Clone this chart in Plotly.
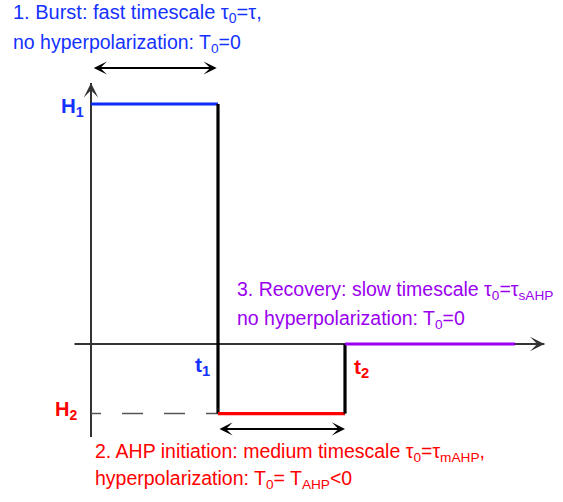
import plotly.graph_objects as go

# ---- data (abstract units) ----
t_points = [0, 1, 2, 3.34]          # t0, t1, t2, end of recovery
levels = [1.0, -0.29, 0.0]          # H1, H2, rest
x_axis_span = [-0.13, 3.57]
y_axis_span = [-0.3875, 1.0875]
burst_arrow_y = 1.15
ahp_arrow_y = -0.354

W, H = 563, 502
X0, Y0 = 91, 344         # pixel position of the origin inside the figure
SX, SY = 127, 240        # pixels per unit
FONT = "Liberation Sans, Arial, sans-serif"
BLUE = "#1432ff"
BLUE_LINE = "#0a2cf5"
RED = "#ff0000"
PURPLE = "#9a00f0"
AXC = "#333333"

fig = go.Figure()

t0, t1, t2, tend = t_points
H1, H2, rest = levels

# axes lines
fig.add_trace(go.Scatter(x=x_axis_span, y=[0, 0], mode="lines",
                         line=dict(color=AXC, width=2), hoverinfo="skip"))
fig.add_trace(go.Scatter(x=[0, 0], y=y_axis_span, mode="lines",
                         line=dict(color=AXC, width=2), hoverinfo="skip"))
# dashed H2 guide
fig.add_trace(go.Scatter(x=[t0, t1], y=[H2, H2], mode="lines",
                         line=dict(color="#555555", width=1.5,
                                   dash="10px,21px,21px,21px,21px,21px,21px"),
                         hoverinfo="skip"))
# step signal
fig.add_trace(go.Scatter(x=[t0, t1], y=[H1, H1], mode="lines",
                         line=dict(color=BLUE_LINE, width=3.2), hoverinfo="skip"))
fig.add_trace(go.Scatter(x=[t1, t1], y=[H1, H2], mode="lines",
                         line=dict(color="black", width=3.2), hoverinfo="skip"))
fig.add_trace(go.Scatter(x=[t1, t2], y=[H2, H2], mode="lines",
                         line=dict(color=RED, width=3.2), hoverinfo="skip"))
fig.add_trace(go.Scatter(x=[t2, t2], y=[H2, rest], mode="lines",
                         line=dict(color="black", width=3.2), hoverinfo="skip"))
fig.add_trace(go.Scatter(x=[t2, tend], y=[rest, rest], mode="lines",
                         line=dict(color=PURPLE, width=3.2), hoverinfo="skip"))

ann = []
# axis arrowheads
ann.append(dict(x=x_axis_span[1], y=0, ax=3.42, ay=0, xref="x", yref="y",
                axref="x", ayref="y", text="", showarrow=True, arrowhead=3,
                arrowsize=1.2, arrowwidth=2, arrowcolor=AXC))
ann.append(dict(x=0, y=y_axis_span[1], ax=0, ay=1.03, xref="x", yref="y",
                axref="x", ayref="y", text="", showarrow=True, arrowhead=3,
                arrowsize=1.2, arrowwidth=2, arrowcolor=AXC))
# double arrows
ann.append(dict(x=0.99, y=burst_arrow_y, ax=t0 + 0.01, ay=burst_arrow_y, xref="x", yref="y",
                axref="x", ayref="y", text="", showarrow=True, arrowhead=3,
                arrowside="end+start", arrowsize=1.1, arrowwidth=2, arrowcolor="black"))
ann.append(dict(x=t2, y=ahp_arrow_y, ax=t1, ay=ahp_arrow_y, xref="x", yref="y",
                axref="x", ayref="y", text="", showarrow=True, arrowhead=3,
                arrowside="end+start", arrowsize=1.1, arrowwidth=2, arrowcolor="black"))


def txt(s, px, py, color, size=19.5, bold=False, xanchor="left"):
    if bold:
        s = "<b>" + s + "</b>"
    ann.append(dict(x=px / W, y=1 - py / H, xref="paper", yref="paper",
                    text=s, showarrow=False, xanchor=xanchor, yanchor="middle",
                    font=dict(family=FONT, size=size, color=color), align="left"))


txt("1. Burst: fast timescale τ<sub>0</sub>=τ,", 11, 14, BLUE, size=20)
txt("no hyperpolarization: T<sub>0</sub>=0", 11, 43.5, BLUE)
txt("3. Recovery: slow timescale τ<sub>0</sub>=τ<sub>sAHP</sub>", 235, 290, PURPLE)
txt("no hyperpolarization: T<sub>0</sub>=0", 235, 319, PURPLE)
txt("2. AHP initiation: medium timescale τ<sub>0</sub>=τ<sub>mAHP</sub>,", 93, 452, RED)
txt("hyperpolarization: T<sub>0</sub>= T<sub>AHP</sub>&lt;0", 93, 479, RED)

txt("H<sub>1</sub>", 59, 107, BLUE, size=20.5, bold=True)
txt("H<sub>2</sub>", 53, 410, RED, size=20, bold=True)
txt("t<sub>1</sub>", 193, 366, BLUE, size=21, bold=True)
txt("t<sub>2</sub>", 352, 368, RED, size=21, bold=True)

fig.update_layout(
    width=W, height=H, margin=dict(l=0, r=0, t=0, b=0),
    paper_bgcolor="white", plot_bgcolor="white", showlegend=False,
    xaxis=dict(visible=False, range=[-X0 / SX, (W - X0) / SX], fixedrange=True),
    yaxis=dict(visible=False, range=[-(H - Y0) / SY, Y0 / SY], fixedrange=True),
    annotations=ann,
)

fig.write_html("out.html",
               config={"displayModeBar": False, "staticPlot": True},
               post_script="document.body.style.margin='0px';document.body.style.overflow='hidden';")
